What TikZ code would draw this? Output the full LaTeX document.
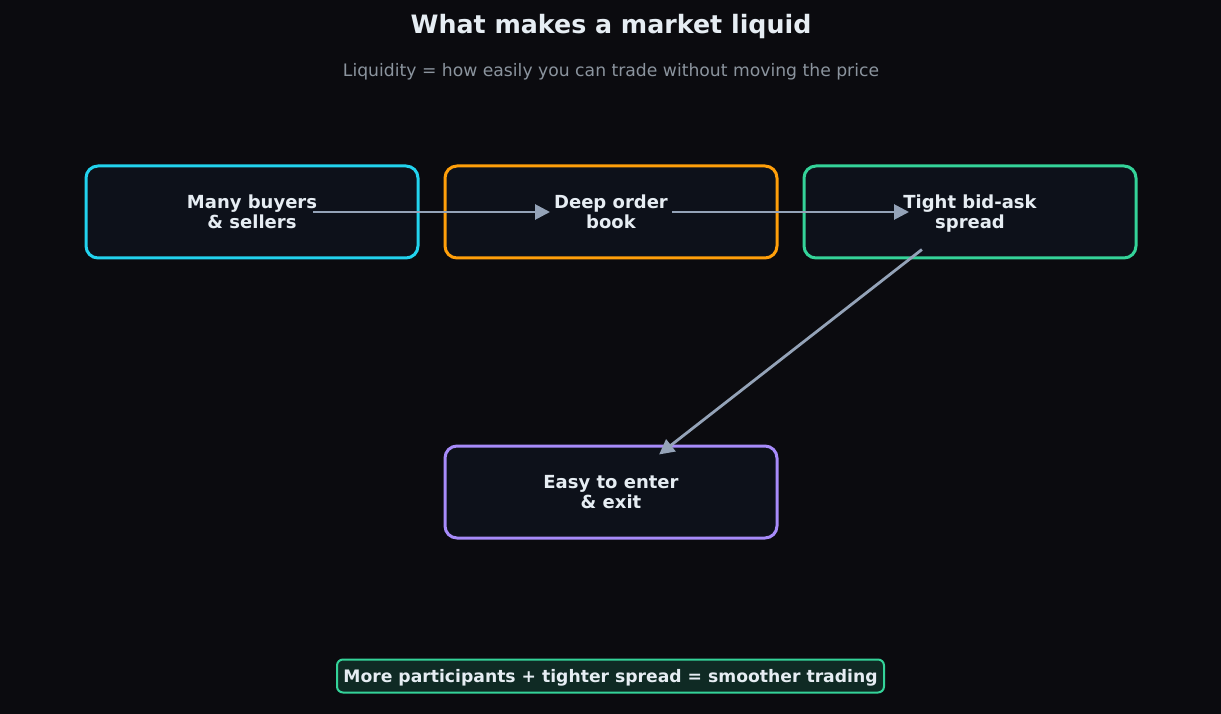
\documentclass[tikz,border=0pt]{standalone}
\usepackage{fontspec}
\setmainfont{DejaVu Sans}
\usetikzlibrary{positioning, arrows.meta}
\definecolor{bgDark}{HTML}{0B0B0F}
\definecolor{boxFill}{HTML}{0D111A}
\definecolor{txtLight}{HTML}{E6EDF3}
\definecolor{txtMuted}{HTML}{8B949E}
\definecolor{arrGray}{HTML}{94A3B8}
\definecolor{stepCyan}{HTML}{22D3EE}
\definecolor{stepOrange}{HTML}{FF9F0A}
\definecolor{stepGreen}{HTML}{34D399}
\definecolor{stepPurple}{HTML}{A78BFA}
\definecolor{noteFill}{HTML}{0F2A24}

\tikzset{
  every node/.style={text depth=0pt},
  stepbox/.style={draw, line width=3pt, fill=boxFill, rounded corners=12pt,
    minimum width=332pt, minimum height=92pt, align=center, text=txtLight,
    font=\fontsize{18}{20}\selectfont\bfseries},
  flow/.style={draw=arrGray, line width=2.8pt,
    -{Triangle[length=15pt,width=15pt,fill=arrGray]},
    shorten <=61pt, shorten >=61pt}
}

\begin{document}
\begin{tikzpicture}[x=1pt, y=-1pt]
    %% ── background ─────────────────────────────────────────────
    \fill[bgDark] (0,0) rectangle (1221,714);
    \useasboundingbox (0,0) rectangle (1221,714);

    %% ── title ──────────────────────────────────────────────────
    \node[text=txtLight, font=\fontsize{25.3}{30}\selectfont\bfseries] (title) at (611,24)
      {What makes a market liquid};
    \node[text=txtMuted, font=\fontsize{17.2}{20}\selectfont] (subtitle) at (611,70)
      {Liquidity = how easily you can trade without moving the price};

    %% ── steps ──────────────────────────────────────────────────
    \node[stepbox, draw=stepCyan] (buyers) at (252,212) {Many buyers\\ \& sellers};
    \node[stepbox, draw=stepOrange] (book) at (611,212) {Deep order\\ book};
    \node[stepbox, draw=stepGreen] (spread) at (970,212) {Tight bid-ask\\ spread};
    \node[stepbox, draw=stepPurple] (exit) at (611,492) {Easy to enter\\ \& exit};

    % connectors (centre to centre, trimmed)
    \draw[flow] (buyers.center) -- (book.center);
    \draw[flow] (book.center) -- (spread.center);
    \draw[flow] (spread.center) -- (exit.center);

    %% ── bottom note ────────────────────────────────────────────
    \node[draw=stepGreen, line width=2pt, fill=noteFill, rounded corners=6pt,
          minimum width=547pt, minimum height=33pt, text=txtLight,
          font=\fontsize{17.2}{20}\selectfont\bfseries] (note) at (610.5,676)
      {More participants + tighter spread = smoother trading};

  \end{tikzpicture}
\end{document}
